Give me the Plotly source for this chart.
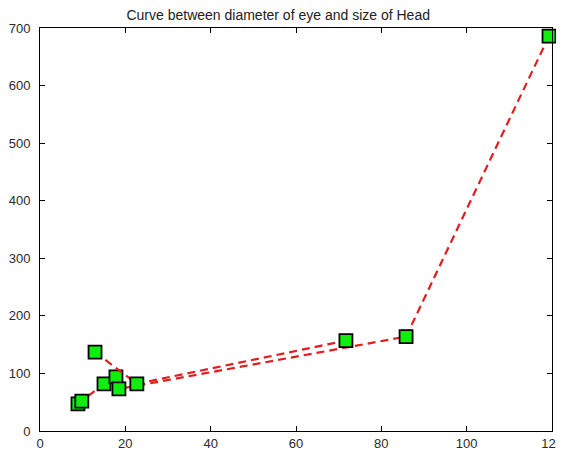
import plotly.graph_objects as go

# Data (diameter of eye vs size of head)
x_a = [8.9, 9.8, 15.0, 17.8, 18.5, 85.8, 119.3]
y_a = [47, 52, 82, 94, 73, 164, 686]
x_b = [12.9, 22.7, 71.7]
y_b = [137, 82, 157]

x_ticks = [0, 20, 40, 60, 80, 100, 120]
y_ticks = [0, 100, 200, 300, 400, 500, 600, 700]

line_style = dict(color="#e01e1e", width=2.2, dash="8px,5px")
marker_style = dict(symbol="square", size=13, color="#10ee10",
                    line=dict(color="black", width=1.8))

fig = go.Figure()
for xs, ys in [(x_a, y_a), (x_b, y_b)]:
    fig.add_trace(go.Scatter(x=xs, y=ys, mode="lines+markers",
                             line=line_style, marker=marker_style,
                             cliponaxis=False, showlegend=False))

axis_common = dict(showgrid=False, zeroline=False, showline=True,
                   linecolor="black", linewidth=1, mirror="ticks",
                   ticks="inside", ticklen=5, tickcolor="black",
                   automargin=False,
                   tickfont=dict(family="Liberation Sans, Arial", size=13, color="#2a2a2a"))

fig.update_layout(
    width=556, height=446,
    margin=dict(l=32, r=12, t=20, b=23),
    paper_bgcolor="white", plot_bgcolor="white",
    title=dict(text="Curve between diameter of eye and size of Head",
               x=0.486, xanchor="center", y=0.983, yanchor="middle",
               font=dict(family="Liberation Sans, Arial", size=14, color="#222")),
    xaxis=dict(range=[0, 120], tickvals=x_ticks, **axis_common),
    yaxis=dict(range=[0, 700], tickvals=y_ticks, ticklabelstandoff=6, **axis_common),
)

fig.write_html("out.html")
